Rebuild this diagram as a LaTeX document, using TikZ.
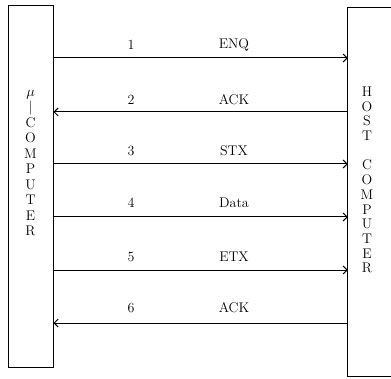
\documentclass[tikz,border=0pt]{standalone}
\usepackage{fontspec}
\usetikzlibrary{arrows.meta}
\begin{document}
\begin{tikzpicture}[x=1pt,y=1pt,
  lbl/.style={font=\fontsize{14}{16}\selectfont\addfontfeatures{LetterSpace=18}, inner sep=0pt},
  vtext/.style={align=center, font=\fontsize{14}{15.5}\selectfont, inner sep=0pt},
  msg/.style={line width=1pt, -{Straight Barb[length=4pt,width=8pt,line width=1pt]}},
  box/.style={draw, line width=1pt, inner sep=0pt}]
\useasboundingbox (0,0) rectangle (391,378);
% boxes
\node[box, minimum width=45pt, minimum height=361pt] (mu) at (30.5,191.5) {};
\node[minimum width=60pt, minimum height=368pt, inner sep=0pt] (host) at (378,186) {};
\draw[line width=1pt] (host.north east) -- (host.north west) -- (host.south west) -- (host.south east);
% box texts
\node[vtext] (mutext) at (30.5,215) {$\mu$\\|\\C\\O\\M\\P\\U\\T\\E\\R};
\node[vtext, font=\fontsize{14}{14.7}\selectfont] (hosttext) at (367,198) {H\\O\\S\\T\\\mbox{}\\C\\O\\M\\P\\U\\T\\E\\R};
% messages
\draw[msg] (mu.east |- 0,320) -- (host.west |- 0,320);
\draw[msg] (host.west |- 0,266) -- (mu.east |- 0,266);
\draw[msg] (mu.east |- 0,214) -- (host.west |- 0,214);
\draw[msg] (mu.east |- 0,161) -- (host.west |- 0,161);
\draw[msg] (mu.east |- 0,108) -- (host.west |- 0,108);
\draw[msg] (host.west |- 0,55) -- (mu.east |- 0,55);
% labels
\node[lbl] (n1) at (131,333) {1};
\node[lbl] (t1) at (234,333) {ENQ};
\node[lbl] (n2) at (131,278) {2};
\node[lbl] (t2) at (234,278) {ACK};
\node[lbl] (n3) at (131,227) {3};
\node[lbl] (t3) at (234,227) {STX};
\node[lbl] (n4) at (131,175) {4};
\node[lbl] (t4) at (234,175) {Data};
\node[lbl] (n5) at (131,121) {5};
\node[lbl] (t5) at (234,121) {ETX};
\node[lbl] (n6) at (131,70) {6};
\node[lbl] (t6) at (234,70) {ACK};
\end{tikzpicture}
\end{document}
